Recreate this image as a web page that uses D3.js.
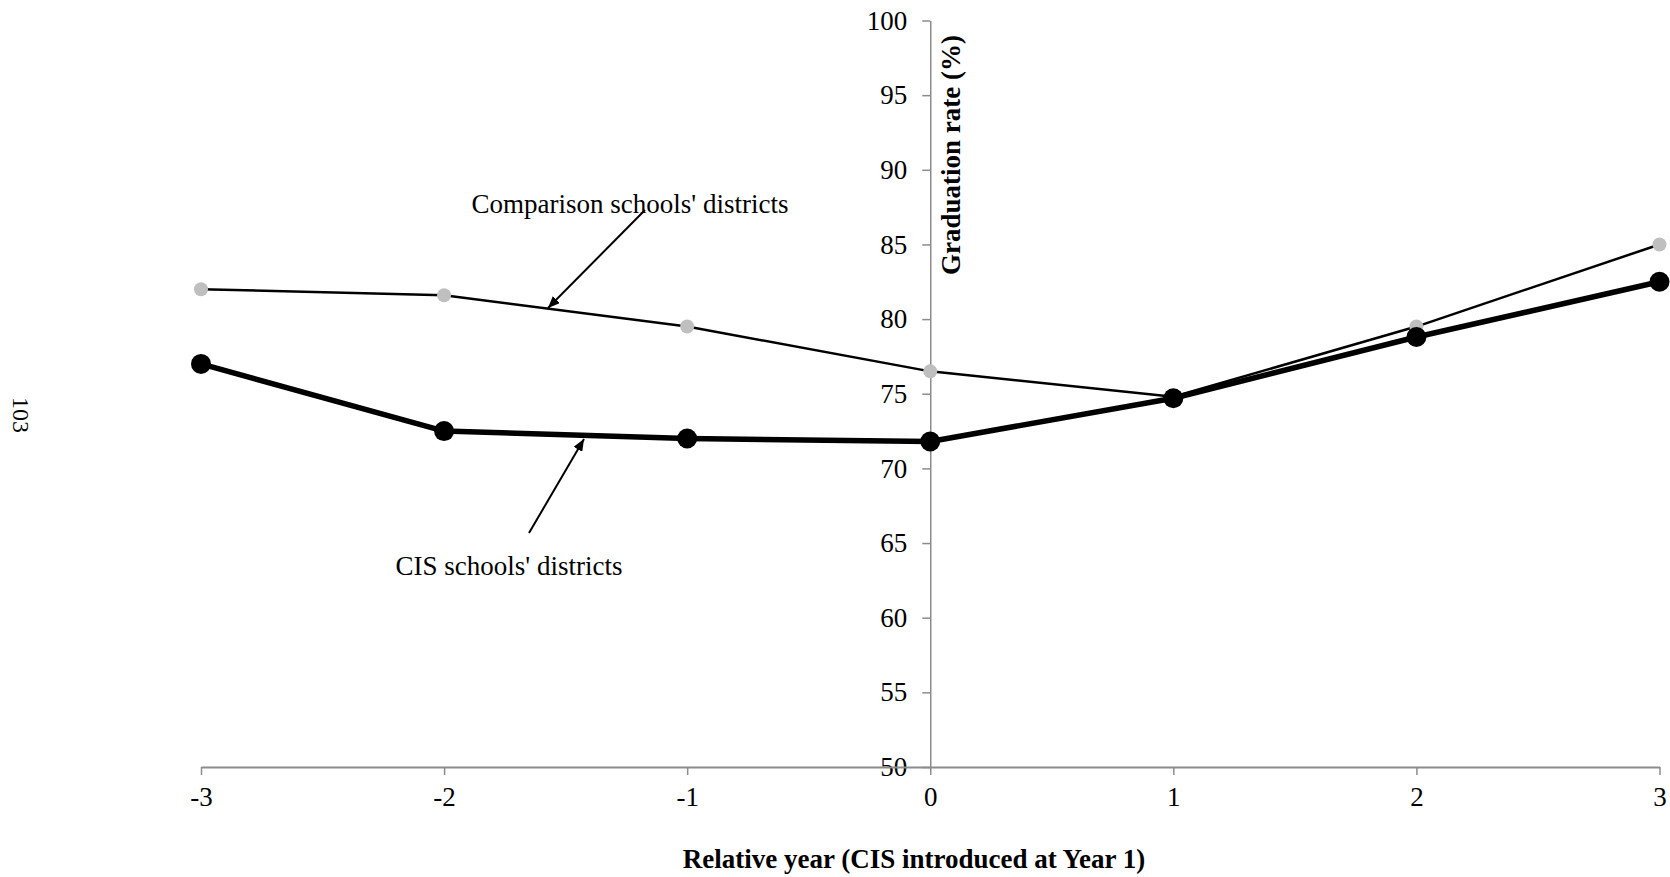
<!DOCTYPE html>
<html>
<head>
<meta charset="utf-8">
<script src="https://cdn.jsdelivr.net/npm/d3@7"></script>
<style>
body { margin: 0; background: #fff; }
svg text { font-family: "Liberation Serif", "Times New Roman", serif; fill: #000; }
</style>
</head>
<body>
<div id="chart"></div>
<script>
// dades llegides de la figura
const anys = [-3, -2, -1, 0, 1, 2, 3];
const comparacio = [82.0, 81.6, 79.5, 76.5, 74.8, 79.5, 85.0];
const cis = [77.0, 72.5, 72.0, 71.8, 74.7, 78.8, 82.5];
const ticsY = [50, 55, 60, 65, 70, 75, 80, 85, 90, 95, 100];
const nomComparacio = "Comparison schools' districts";
const nomCis = "CIS schools' districts";
const titolX = "Relative year (CIS introduced at Year 1)";
const titolY = "Graduation rate (%)";
const pagina = "103";

const amplada = 1670, alçada = 877;
const grisEix = "#8c8c8c";
const mida = "27px";

const svg = d3.select("#chart")
	.append("svg")
	.attr("width", amplada)
	.attr("height", alçada);

const x = d3.scaleLinear().domain([-3, 3]).range([201, 1659.5]);
const y = d3.scaleLinear().domain([50, 100]).range([767, 20.5]);

// fletxes
const defs = svg.append("defs");
defs.append("marker")
	.attr("id", "fletxa")
	.attr("viewBox", "0 0 12 10")
	.attr("refX", 12).attr("refY", 5)
	.attr("markerWidth", 12).attr("markerHeight", 10)
	.attr("markerUnits", "userSpaceOnUse")
	.attr("orient", "auto")
	.append("path")
	.attr("d", "M0,0 L12,5 L0,10 Z")
	.attr("fill", "#000");

// eix Y, a la posició del zero
const eixY = svg.append("g")
	.attr("transform", `translate(${x(0)},0)`)
	.call(d3.axisLeft(y).tickValues(ticsY).tickSize(8).tickSizeOuter(0).tickPadding(15)
		.tickFormat(d => String(d)));
eixY.select(".domain").attr("stroke", grisEix).attr("stroke-width", 1.5);
eixY.selectAll(".tick line").attr("stroke", grisEix).attr("stroke-width", 1.5);
eixY.selectAll(".tick text")
	.style("font-family", "Liberation Serif")
	.style("font-size", mida);

// eix X
const eixX = svg.append("g")
	.attr("transform", `translate(0,${y(50)})`)
	.call(d3.axisBottom(x).tickValues(anys).tickSize(8).tickSizeOuter(0).tickPadding(12)
		.tickFormat(d => String(d)));
eixX.select(".domain").attr("stroke", grisEix).attr("stroke-width", 2);
eixX.selectAll(".tick line").attr("stroke", grisEix).attr("stroke-width", 1.5);
eixX.selectAll(".tick text")
	.style("font-family", "Liberation Serif")
	.style("font-size", mida);

// títols
svg.append("text")
	.attr("x", 914)
	.attr("y", 868)
	.attr("text-anchor", "middle")
	.style("font-size", mida)
	.style("font-weight", "bold")
	.text(titolX);

svg.append("text")
	.attr("transform", `translate(960,155) rotate(-90)`)
	.attr("text-anchor", "middle")
	.style("font-size", mida)
	.style("font-weight", "bold")
	.text(titolY);

svg.append("text")
	.attr("transform", `translate(13,415) rotate(90)`)
	.attr("text-anchor", "middle")
	.style("font-size", "24px")
	.text(pagina);

// sèries
const linia = d3.line()
	.x((d, i) => x(anys[i]))
	.y(d => y(d));

svg.append("path")
	.datum(comparacio)
	.attr("d", linia)
	.attr("fill", "none")
	.attr("stroke", "#000")
	.attr("stroke-width", 2.5)
	.attr("stroke-linejoin", "round");
svg.append("g")
	.selectAll("circle")
	.data(comparacio)
	.enter()
	.append("circle")
		.attr("cx", (d, i) => x(anys[i]))
		.attr("cy", d => y(d))
		.attr("r", 7)
		.attr("fill", "#bfbfbf");

svg.append("path")
	.datum(cis)
	.attr("d", linia)
	.attr("fill", "none")
	.attr("stroke", "#000")
	.attr("stroke-width", 5.5)
	.attr("stroke-linejoin", "round");
svg.append("g")
	.selectAll("circle")
	.data(cis)
	.enter()
	.append("circle")
		.attr("cx", (d, i) => x(anys[i]))
		.attr("cy", d => y(d))
		.attr("r", 10)
		.attr("fill", "#000");

// etiquetes amb fletxa
svg.append("text")
	.attr("x", 630)
	.attr("y", 213)
	.attr("text-anchor", "middle")
	.style("font-size", mida)
	.text(nomComparacio);
svg.append("line")
	.attr("x1", 645).attr("y1", 210)
	.attr("x2", 548).attr("y2", 308)
	.attr("stroke", "#000")
	.attr("stroke-width", 2)
	.attr("marker-end", "url(#fletxa)");

svg.append("text")
	.attr("x", 509)
	.attr("y", 575)
	.attr("text-anchor", "middle")
	.style("font-size", mida)
	.text(nomCis);
svg.append("line")
	.attr("x1", 529).attr("y1", 533)
	.attr("x2", 584).attr("y2", 439)
	.attr("stroke", "#000")
	.attr("stroke-width", 2)
	.attr("marker-end", "url(#fletxa)");
</script>
</body>
</html>
